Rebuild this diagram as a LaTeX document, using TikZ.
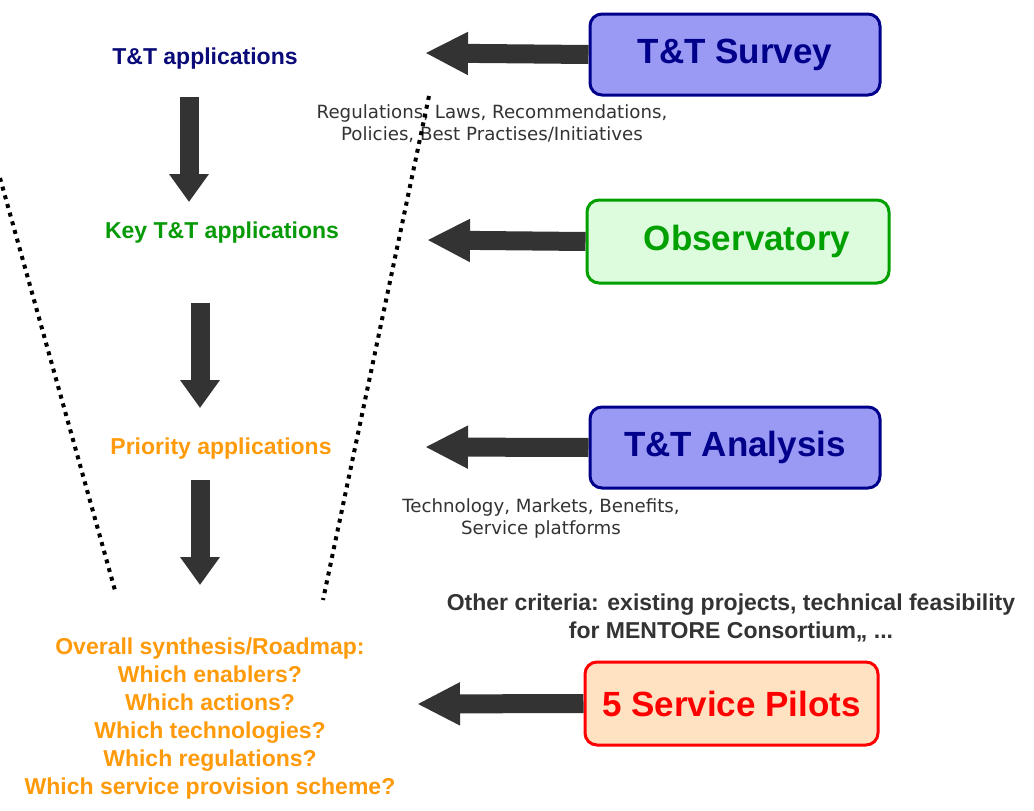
\documentclass[tikz,border=0pt]{standalone}
\usepackage{fontspec}
\setmainfont{Liberation Sans}
\newfontfamily\annfont{DejaVu Sans}
\usetikzlibrary{arrows.meta}
\definecolor{navy}{HTML}{0A0A78}
\definecolor{keygreen}{HTML}{079A07}
\definecolor{prio}{HTML}{FF9A0A}
\definecolor{arrowgray}{HTML}{333333}
\definecolor{bluefill}{HTML}{9A9AF4}
\definecolor{blueedge}{HTML}{00008A}
\definecolor{greenfill}{HTML}{DDFBDD}
\definecolor{greenedge}{HTML}{00A000}
\definecolor{peachfill}{HTML}{FFE2C2}
\definecolor{rededge}{HTML}{FF0000}
\definecolor{annot}{HTML}{333333}
\tikzset{
  box/.style={draw, line width=3pt, rounded corners=12pt, inner sep=0pt, font=\bfseries\fontsize{35}{38}\selectfont},
  label/.style={font=\bfseries\fontsize{23}{26}\selectfont, align=center},
  annotation/.style={font=\annfont\fontsize{18.2}{22}\selectfont, text=annot, align=center},
  harrow/.style={arrowgray, line width=19pt, -{Triangle[width=40pt,length=43pt]}},
  varrow/.style={arrowgray, line width=19pt, -{Triangle[width=38pt,length=28pt]}},
  dots/.style={line width=4pt, dash pattern=on 4pt off 5pt, black}
}
\begin{document}
\begin{tikzpicture}[x=1pt,y=-1pt]
\useasboundingbox[fill=white] (0,0) rectangle (1034,811);

% left column texts
\node[label, text=navy] (app) at (205,59) {T\&T applications};
\node[label, text=keygreen] (key) at (222,233) {Key T\&T applications};
\node[label, text=prio] (prio) at (221,449) {Priority applications};
\node[label, text=prio, font=\bfseries\fontsize{23}{28}\selectfont] (synth) at (210,719)
  {Overall synthesis/Roadmap:\\Which enablers?\\Which actions?\\Which technologies?\\Which regulations?\\Which service provision scheme?};

% right boxes
\node[box, fill=bluefill, draw=blueedge, text=blueedge, minimum width=290pt, minimum height=81pt] (survey) at (735,54.5) {T\&T Survey};
\node[box, fill=greenfill, draw=greenedge, text=greenedge, minimum width=302pt, minimum height=83pt] (obs) at (738,241.5) {\hspace{18pt}Observatory};
\node[box, fill=bluefill, draw=blueedge, text=blueedge, minimum width=290pt, minimum height=81pt] (analysis) at (735,447.5) {T\&T Analysis};
\node[box, fill=peachfill, draw=rededge, text=rededge, minimum width=293pt, minimum height=83pt] (pilots) at (731.5,703.5) {5 Service Pilots};

% annotations
\node[annotation] (ann1) at (492,124) {Regulations, Laws, Recommendations,\\Policies, Best Practises/Initiatives};
\node[annotation] (ann2) at (541,518) {Technology, Markets, Benefits,\\Service platforms};
\node[font=\bfseries\fontsize{23}{28}\selectfont, text=annot, align=center] (other) at (731,618)
  {Other criteria: existing projects, technical feasibility\\for MENTORE Consortium,, ...};

% coordinates
\coordinate (t1) at (425,53);
\coordinate (t2) at (427,240);
\coordinate (t3) at (425,447);
\coordinate (t4) at (417,704);
\coordinate (s1) at (189,97);
\coordinate (e1) at (189,202);
\coordinate (s2) at (200,303);
\coordinate (e2) at (200,408);
\coordinate (s3) at (200,480);
\coordinate (e3) at (200,585);
\coordinate (dl1) at (0,178);
\coordinate (dl2) at (116,594);
\coordinate (dr1) at (429,96);
\coordinate (dr2) at (323,600);

% dotted funnel
\draw[dots] (dl1) -- (dl2);
\draw[dots] (dr1) -- (dr2);

% horizontal arrows
\draw[harrow] (survey.west) -- (t1);
\draw[harrow] (obs.west) -- (t2);
\draw[harrow] (analysis.west) -- (t3);
\draw[harrow] (pilots.west) -- (t4);

% vertical arrows
\draw[varrow] (s1) -- (e1);
\draw[varrow] (s2) -- (e2);
\draw[varrow] (s3) -- (e3);
\end{tikzpicture}
\end{document}
